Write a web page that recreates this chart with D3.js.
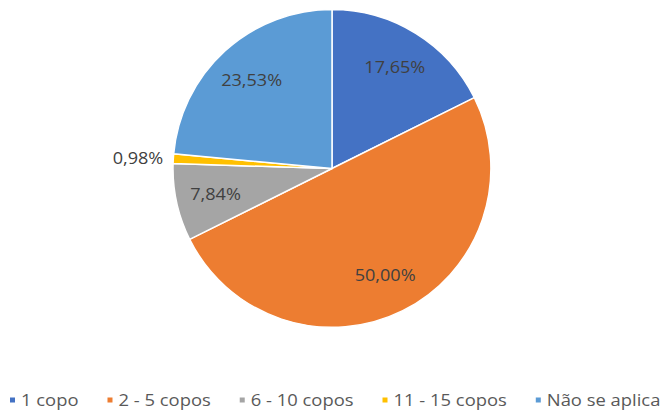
<!DOCTYPE html>
<html>
<head>
<meta charset="utf-8">
<script src="https://cdn.jsdelivr.net/npm/d3@7/dist/d3.min.js"></script>
<style>
  html, body { margin: 0; padding: 0; background: #fff; }
  svg { display: block; font-family: "Open Sans", sans-serif; }
</style>
</head>
<body>
<svg id="chart" width="670" height="410"></svg>
<script>
// Categories and shares (percent of answers)
const categories = ["1 copo", "2 - 5 copos", "6 - 10 copos", "11 - 15 copos", "Não se aplica"];
const values = [17.65, 50.00, 7.84, 0.98, 23.53];
const colors = ["#4472C4", "#ED7D31", "#A5A5A5", "#FFC000", "#5B9BD5"];
const labels = ["17,65%", "50,00%", "7,84%", "0,98%", "23,53%"];

const svg = d3.select("#chart");
const cx = 332, cy = 168.5, R = 159;
const labelStretch = 1.13;   // wide letterforms for the value labels
const legendStretch = 1.15;  // and for the legend entries

const data = categories.map((c, i) => ({ name: c, value: values[i], color: colors[i], label: labels[i] }));

const pie = d3.pie().value(d => d.value).sort(null);
const arcs = pie(data);
const arc = d3.arc().innerRadius(0).outerRadius(R);
const labelArc = d3.arc().innerRadius(R * 0.75).outerRadius(R * 0.75);

const g = svg.append("g").attr("transform", `translate(${cx},${cy})`);

g.selectAll("path.slice")
  .data(arcs)
  .enter().append("path")
  .attr("class", "slice")
  .attr("d", arc)
  .attr("fill", d => d.data.color)
  .attr("stroke", "#fff")
  .attr("stroke-width", 1.5);

// Value labels: inside for large slices, outside to the left for the tiny one
g.selectAll("text.val")
  .data(arcs)
  .enter().append("text")
  .attr("class", "val")
  .attr("font-size", 16)
  .attr("fill", "#404040")
  .attr("dominant-baseline", "central")
  .each(function (d) {
    const sel = d3.select(this);
    const span = d.endAngle - d.startAngle;
    let x, y;
    if (span < 0.1) {
      const mid = (d.startAngle + d.endAngle) / 2;
      x = Math.sin(mid) * (R + 10);
      y = -Math.cos(mid) * (R + 10);
      sel.attr("text-anchor", "end");
    } else {
      [x, y] = labelArc.centroid(d);
      sel.attr("text-anchor", "middle");
    }
    sel.attr("transform", `translate(${x},${y}) scale(${labelStretch},1)`);
  })
  .text(d => d.data.label);

// Legend along the bottom
const legend = svg.append("g").attr("transform", "translate(10,400)");
let xPos = 0;
data.forEach(d => {
  const item = legend.append("g").attr("transform", `translate(${xPos},0)`);
  item.append("rect")
    .attr("x", 0).attr("y", -2.5)
    .attr("width", 5).attr("height", 5)
    .attr("fill", d.color);
  const t = item.append("text")
    .attr("transform", `translate(11,0) scale(${legendStretch},1)`)
    .attr("dominant-baseline", "central")
    .attr("font-size", 16)
    .attr("fill", "#595959")
    .text(d.name);
  xPos += 11 + t.node().getComputedTextLength() * legendStretch + 29;
});
</script>
</body>
</html>
